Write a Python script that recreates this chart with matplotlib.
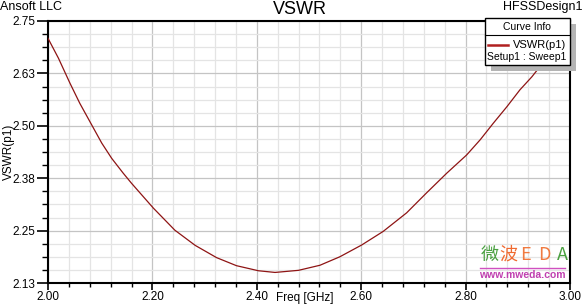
import numpy as np
import matplotlib
matplotlib.use("Agg")
import matplotlib.pyplot as plt
import matplotlib.ticker as ticker
from matplotlib.patches import Rectangle
from matplotlib.lines import Line2D

plt.rcParams['font.family'] = ['Liberation Sans', 'Noto Sans CJK SC', 'DejaVu Sans']

# VSWR(p1)
freq = [2.000, 2.020, 2.042, 2.061, 2.082, 2.103, 2.122, 2.144, 2.160, 2.202,
        2.243, 2.282, 2.323, 2.361, 2.403, 2.435, 2.480, 2.521, 2.559, 2.601,
        2.642, 2.687, 2.725, 2.764, 2.802, 2.828, 2.853, 2.879, 2.904, 2.927,
        2.943, 2.970, 3.000]
vswr = [2.709, 2.662, 2.603, 2.555, 2.508, 2.461, 2.425, 2.390, 2.366, 2.307,
        2.255, 2.219, 2.190, 2.171, 2.159, 2.155, 2.160, 2.172, 2.192, 2.220,
        2.252, 2.296, 2.343, 2.390, 2.433, 2.469, 2.508, 2.547, 2.587, 2.618,
        2.643, 2.690, 2.742]
yticks = [2.13, 2.254, 2.378, 2.502, 2.626, 2.75]
ytick_labels = ['2.13', '2.25', '2.38', '2.50', '2.63', '2.75']
xticks = [2.0, 2.2, 2.4, 2.6, 2.8, 3.0]

W, H = 587, 304
fig = plt.figure(figsize=(W / 100, H / 100), dpi=100)


def px(x, y):
    return x / W, 1 - y / H


ax = fig.add_axes([48 / W, (H - 283) / H, (570 - 48) / W, 262 / H])
ax.plot(freq, vswr, color='#8e1414', lw=0.9, zorder=3)
ax.set_xlim(2.0, 3.0)
ax.set_ylim(2.13, 2.75)
ax.set_xticks(xticks)
ax.set_xticklabels(['%.2f' % v for v in xticks])
ax.set_yticks(yticks)
ax.set_yticklabels(ytick_labels)
ax.xaxis.set_minor_locator(ticker.AutoMinorLocator(5))
ax.yaxis.set_minor_locator(ticker.AutoMinorLocator(4))
ax.grid(which='major', color='#c4c4c4', lw=0.9)
ax.grid(which='minor', color='#e4e4e4', lw=0.9)
ax.set_axisbelow(True)
ax.tick_params(axis='y', which='major', length=8, width=1.2, labelsize=8.5, pad=1)
ax.tick_params(axis='y', which='minor', length=4, width=1.0)
ax.tick_params(axis='x', which='major', length=5, width=1.2, labelsize=8.5, pad=0.5)
ax.tick_params(axis='x', which='minor', length=3, width=1.0)
for s in ax.spines.values():
    s.set_linewidth(1.5)

ax.set_ylabel('VSWR(p1)', fontsize=8.5)
ax.yaxis.label.set_va('center')
ax.yaxis.set_label_coords(-39 / 522, 0.5)
fig.text(*px(305, 304), 'Freq [GHz]', fontsize=8.5, ha='center', va='bottom')

fig.text(*px(300, 10), 'VSWR', fontsize=13, ha='center', va='center')
fig.text(*px(0, 7), 'Ansoft LLC', fontsize=9, ha='left', va='center')
fig.text(*px(582, 7), 'HFSSDesign1', fontsize=9, ha='right', va='center')

# Curve Info box
x0, y0 = px(485, 65)
x1, y1 = px(570, 18)
sh = 6 / W, 6 / H
fig.patches.append(Rectangle((x0 + sh[0], y0 - sh[1]), x1 - x0, y1 - y0,
                             transform=fig.transFigure, facecolor='#b4b4b4', edgecolor='none', zorder=5))
fig.patches.append(Rectangle((x0, y0), x1 - x0, y1 - y0, transform=fig.transFigure,
                             facecolor='white', edgecolor='black', lw=1.0, zorder=6))
fig.lines.append(Line2D([x0, x1], [px(0, 35)[1]] * 2, transform=fig.transFigure,
                        color='black', lw=0.8, zorder=7))
fig.lines.append(Line2D([px(488, 0)[0], px(508, 0)[0]], [px(0, 45)[1]] * 2,
                        transform=fig.transFigure, color='#b02020', lw=1.8, zorder=7))
fig.text(*px(527, 27), 'Curve Info', fontsize=7.5, ha='center', va='center', zorder=8)
fig.text(*px(566, 45), 'VSWR(p1)', fontsize=8, ha='right', va='center', zorder=8)
fig.text(*px(527, 57), 'Setup1 : Sweep1', fontsize=7.5, ha='center', va='center', zorder=8)

# watermark
wm = [('微', '#4aa040'), ('波', '#f06a30'), ('E', '#f07a40'), ('D', '#f07a40'), ('A', '#4aa040')]
for i, (ch, c) in enumerate(wm):
    fig.text(*px(490 + i * 18, 255), ch, fontsize=13, color=c, ha='center', va='center',
             family=['Noto Sans CJK SC', 'DejaVu Sans'], zorder=8)
fig.lines.append(Line2D([px(480, 0)[0], px(565, 0)[0]], [px(0, 268)[1]] * 2,
                        transform=fig.transFigure, color='#d050c0', lw=1.0, zorder=8))
fig.text(*px(522, 275), 'www.mweda.com', fontsize=7.5, color='#c040b0', ha='center',
         va='center', weight='bold', zorder=8)

fig.savefig('out.png', dpi=100)
